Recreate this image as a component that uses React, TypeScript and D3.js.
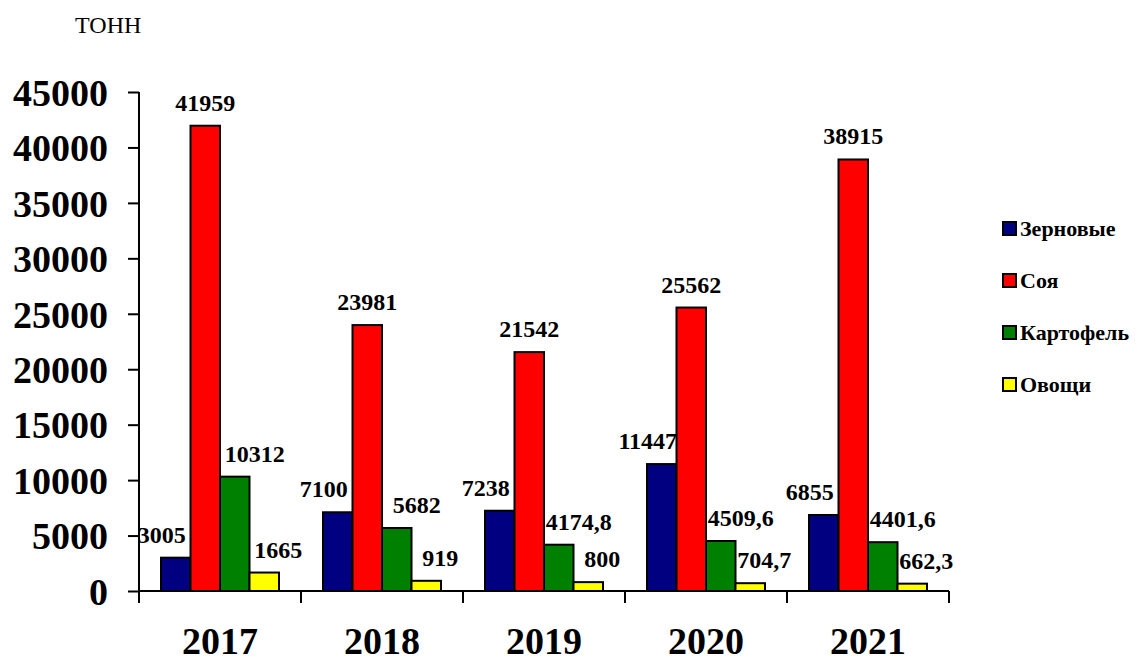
import React, { useEffect, useRef } from "react";
import * as d3 from "d3";

const years = ["2017", "2018", "2019", "2020", "2021"];
const seriesNames = ["Зерновые", "Соя", "Картофель", "Овощи"];
const seriesColors = ["#000080", "#ff0000", "#008000", "#ffff00"];
const grain = [3005, 7100, 7238, 11447, 6855];
const soy = [41959, 23981, 21542, 25562, 38915];
const potato = [10312, 5682, 4174.8, 4509.6, 4401.6];
const vegetables = [1665, 919, 800, 704.7, 662.3];
const yTicks = [0, 5000, 10000, 15000, 20000, 25000, 30000, 35000, 40000, 45000];
const unitLabel = "ТОНН";

const App = () => {
  const ref = useRef<HTMLDivElement>(null);

  useEffect(() => {
    d3.select(ref.current).select("svg").remove();
    const width = 1137,
      height = 663;
    const font = "Liberation Serif, Times New Roman, Times, DejaVu Serif, serif";

    const svg = d3
      .select(ref.current)
      .append("svg")
      .attr("width", width)
      .attr("height", height)
      .attr("font-family", font)
      .style("position", "absolute")
      .style("left", 0)
      .style("top", 0);

    const values = [grain, soy, potato, vegetables];

    const x0 = d3.scaleBand().domain(years).range([139, 949]).padding(0);
    const x1 = d3
      .scaleBand()
      .domain(seriesNames)
      .range([22, x0.bandwidth() - 22])
      .padding(0);
    const y = d3.scaleLinear().domain([0, 45000]).range([591, 92]);

    // unit caption
    svg
      .append("text")
      .attr("x", 75)
      .attr("y", 33)
      .attr("font-size", 24)
      .text(unitLabel);

    // bars
    values.forEach((vals, si) => {
      svg
        .append("g")
        .selectAll("rect")
        .data(vals)
        .join("rect")
        .attr("x", (d, i) => x0(years[i])! + x1(seriesNames[si])!)
        .attr("y", (d) => y(d))
        .attr("width", x1.bandwidth())
        .attr("height", (d) => y(0) - y(d))
        .attr("fill", seriesColors[si])
        .attr("stroke", "#000")
        .attr("stroke-width", 2);
    });

    // value labels (nudged sideways like the original)
    const labelDx = [-14, 0, 20, 14];
    const fmt = (v: number) => String(v).replace(".", ",");
    values.forEach((vals, si) => {
      svg
        .append("g")
        .selectAll("text")
        .data(vals)
        .join("text")
        .attr(
          "x",
          (d, i) =>
            x0(years[i])! + x1(seriesNames[si])! + x1.bandwidth() / 2 + labelDx[si]
        )
        .attr("y", (d) => y(d) - 15)
        .attr("text-anchor", "middle")
        .attr("font-size", 24)
        .attr("font-weight", "bold")
        .text((d) => fmt(d));
    });

    // y axis
    const yAxis = svg.append("g").attr("transform", "translate(139,0)");
    yAxis
      .call(d3.axisLeft(y).tickValues(yTicks).tickSize(11).tickFormat((d) => String(d)))
      .call((g) =>
        g
          .select(".domain")
          .attr("stroke", "#000")
          .attr("stroke-width", 2)
          .attr("d", "M0," + y(45000) + "V" + y(0))
      );
    yAxis.attr("font-family", font).attr("font-size", 38);
    yAxis.selectAll(".tick line").attr("stroke", "#000").attr("stroke-width", 2);
    yAxis
      .selectAll(".tick text")
      .attr("x", -31)
      .attr("dy", "0.35em")
      .attr("font-weight", "bold")
      .attr("fill", "#000");

    // x axis
    const xAxis = svg.append("g").attr("transform", "translate(0," + y(0) + ")");
    xAxis
      .append("line")
      .attr("x1", 139)
      .attr("x2", 949)
      .attr("stroke", "#000")
      .attr("stroke-width", 2);
    const boundaries = years.map((yr) => x0(yr)!).concat([x0.range()[1]]);
    xAxis
      .selectAll("line.tick")
      .data(boundaries)
      .join("line")
      .attr("class", "tick")
      .attr("x1", (d) => d)
      .attr("x2", (d) => d)
      .attr("y1", 0)
      .attr("y2", 12)
      .attr("stroke", "#000")
      .attr("stroke-width", 2);
    xAxis
      .selectAll("text")
      .data(years)
      .join("text")
      .attr("x", (d) => x0(d)! + x0.bandwidth() / 2)
      .attr("y", 63)
      .attr("text-anchor", "middle")
      .attr("font-size", 38)
      .attr("font-weight", "bold")
      .text((d) => d);

    // legend
    const legend = svg.append("g").attr("transform", "translate(1003,222)");
    seriesNames.forEach((name, i) => {
      const row = legend.append("g").attr("transform", "translate(0," + i * 52 + ")");
      row
        .append("rect")
        .attr("width", 13)
        .attr("height", 13)
        .attr("fill", seriesColors[i])
        .attr("stroke", "#000")
        .attr("stroke-width", 2);
      row
        .append("text")
        .attr("x", 17)
        .attr("y", 14)
        .attr("font-size", 22)
        .attr("font-weight", "bold")
        .text(name);
    });
  }, []);

  return <div ref={ref} />;
};

export default App;
